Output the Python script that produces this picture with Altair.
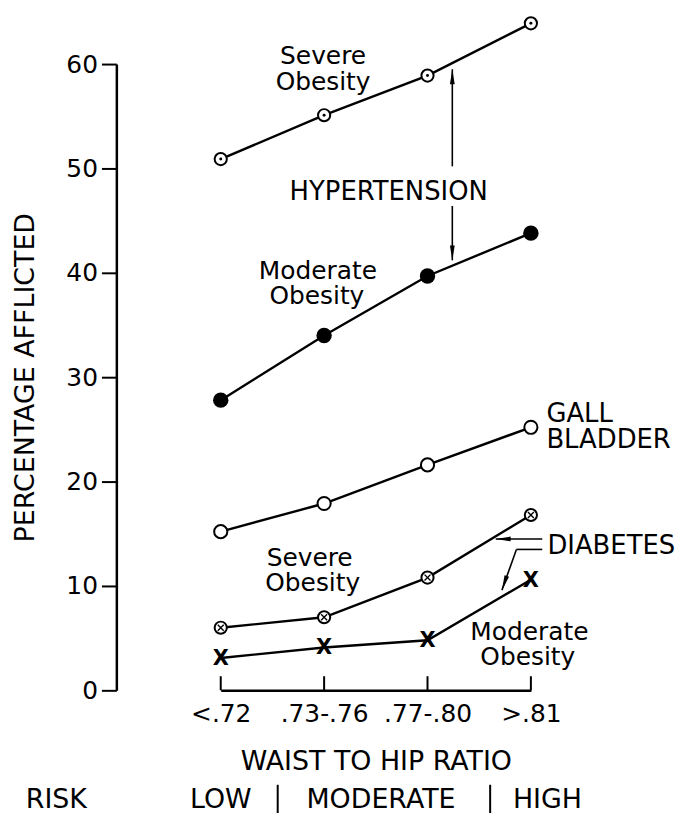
import altair as alt
import pandas as pd

# ---------------- data ----------------
categories = ["<.72", ".73-.76", ".77-.80", ">.81"]
ht_severe = [50.9, 55.1, 58.9, 63.9]
ht_moderate = [27.8, 34.0, 39.7, 43.8]
gall_bladder = [15.2, 17.9, 21.6, 25.2]
diab_severe = [6.0, 7.0, 10.8, 16.8]
diab_moderate = [3.1, 4.1, 4.8, 10.6]
y_ticks = [0, 10, 20, 30, 40, 50, 60]

# annotation labels (x in category-index units, y in percent)
center_text = ["Severe", "Obesity", "Moderate", "Obesity",
               "Severe", "Obesity", "Moderate", "Obesity"]
center_x = [0.99, 0.99, 0.94, 0.93, 0.86, 0.89, 2.985, 2.97]
center_y = [60.0, 57.5, 39.4, 37.0, 11.9, 9.55, 4.8, 2.4]

big_text = ["HYPERTENSION"]
big_x = [1.625]
big_y = [47.0]

left_text = ["GALL", "BLADDER", "DIABETES"]
left_x = [3.15, 3.15, 3.16]
left_y = [25.7, 23.2, 13.05]

risk_text = ["RISK", "LOW", "MODERATE", "HIGH"]
risk_x = [-1.59, 0.0, 1.55, 3.16]
risk_y = [-11.3, -11.3, -11.3, -11.3]
divider_x = [0.551, 2.606]
divider_y = [-9.05, -9.05]
divider_y2 = [-12.1, -12.1]

# arrow shafts
arrow_x = [2.24, 2.24, 3.11, 3.11, 2.86]
arrow_y = [50.2, 46.4, 14.5, 13.5, 13.5]
arrow_x2 = [2.24, 2.24, 2.66, 2.86, 2.72]
arrow_y2 = [59.5, 41.2, 14.5, 13.5, 9.6]
# arrow heads (tip position and direction in degrees)
head_x = [2.24, 2.24, 2.66, 2.72]
head_y = [59.5, 41.2, 14.5, 9.6]
head_angle = [0, 180, 270, 199]

tick_len = 1.35  # x-axis tick length in percent units

# ---------------- tables ----------------
idx = list(range(len(categories)))
series = {
    "ht_severe": ht_severe,
    "ht_moderate": ht_moderate,
    "gall": gall_bladder,
    "diab_severe": diab_severe,
    "diab_moderate": diab_moderate,
}
rows = []
for name, vals in series.items():
    for i, v in zip(idx, vals):
        rows.append({"series": name, "idx": i, "value": v, "cat": categories[i]})
df = pd.DataFrame(rows)

FONT = "DejaVu Sans"
label_expr = "[" + ",".join("'" + c + "'" for c in categories) + "][datum.value]"

xscale = alt.Scale(domain=[0, 3], nice=False, zero=False)
yscale = alt.Scale(domain=[0, 60], nice=False, zero=True)

xaxis = alt.Axis(values=idx, labelExpr=label_expr, ticks=False, tickSize=0,
                 domainColor="black", domainWidth=2.5, labelColor="black",
                 labelFont=FONT, labelFontSize=25, labelPadding=11,
                 labelFlush=False, labelOverlap=False, grid=False,
                 title="WAIST TO HIP RATIO", titleFont=FONT, titleFontSize=27,
                 titleFontWeight="normal", titleColor="black", titlePadding=23)
yaxis = alt.Axis(values=y_ticks, offset=105, tickSize=15, tickWidth=2,
                 tickColor="black", domainColor="black", domainWidth=2.5,
                 labelColor="black", labelFont=FONT, labelFontSize=25,
                 labelPadding=4, grid=False,
                 title="PERCENTAGE AFFLICTED", titleFont=FONT, titleFontSize=27,
                 titleFontWeight="normal", titleColor="black", titlePadding=27)


def X(f):
    return alt.X(f, type="quantitative", scale=xscale, axis=xaxis)


def Y(f):
    return alt.Y(f, type="quantitative", scale=yscale, axis=yaxis)


base = alt.Chart(df)

lines = base.mark_line(color="black", strokeWidth=2.4).encode(
    x=X("idx"), y=Y("value"), detail="series:N")

open_sev = base.transform_filter(alt.datum.series == "ht_severe").mark_point(
    shape="circle", filled=True, fill="white", stroke="black", strokeWidth=2,
    size=150, opacity=1).encode(x=X("idx"), y=Y("value"))
dot_sev = base.transform_filter(alt.datum.series == "ht_severe").mark_point(
    shape="circle", filled=True, color="black", size=9, opacity=1).encode(
    x=X("idx"), y=Y("value"))

filled_mod = base.transform_filter(alt.datum.series == "ht_moderate").mark_point(
    shape="circle", filled=True, color="black", size=240, opacity=1).encode(
    x=X("idx"), y=Y("value"))

open_gall = base.transform_filter(alt.datum.series == "gall").mark_point(
    shape="circle", filled=True, fill="white", stroke="black", strokeWidth=2,
    size=175, opacity=1).encode(x=X("idx"), y=Y("value"))

open_diab = base.transform_filter(alt.datum.series == "diab_severe").mark_point(
    shape="circle", filled=True, fill="white", stroke="black", strokeWidth=2,
    size=150, opacity=1).encode(x=X("idx"), y=Y("value"))
cross_diab = base.transform_filter(alt.datum.series == "diab_severe").mark_point(
    shape="M-0.75,-0.75L0.75,0.75M0.75,-0.75L-0.75,0.75", filled=False,
    stroke="black", strokeWidth=1.4, size=64, opacity=1).encode(
    x=X("idx"), y=Y("value"))

x_marks = base.transform_filter(alt.datum.series == "diab_moderate").mark_text(
    text="X", font=FONT, fontWeight="bold", fontSize=21, color="black",
    baseline="middle", align="center", dy=1).encode(x=X("idx"), y=Y("value"))

# x-axis ticks pointing upwards
tick_df = pd.DataFrame({"idx": idx, "y0": [0] * len(idx), "y1": [tick_len] * len(idx)})
xticks = alt.Chart(tick_df).mark_rule(color="black", strokeWidth=2).encode(
    x=X("idx"), y=Y("y0"), y2="y1")

center_df = pd.DataFrame({"idx": center_x, "value": center_y, "t": center_text})
center_lbl = alt.Chart(center_df).mark_text(
    font=FONT, fontSize=25, color="black", align="center",
    baseline="alphabetic").encode(x=X("idx"), y=Y("value"), text="t:N")

big_df = pd.DataFrame({"idx": big_x, "value": big_y, "t": big_text})
big_lbl = alt.Chart(big_df).mark_text(
    font=FONT, fontSize=26, color="black", align="center",
    baseline="alphabetic").encode(x=X("idx"), y=Y("value"), text="t:N")

left_df = pd.DataFrame({"idx": left_x, "value": left_y, "t": left_text})
left_lbl = alt.Chart(left_df).mark_text(
    font=FONT, fontSize=26, color="black", align="left",
    baseline="alphabetic").encode(x=X("idx"), y=Y("value"), text="t:N")

risk_df = pd.DataFrame({"idx": risk_x, "value": risk_y, "t": risk_text})
risk_lbl = alt.Chart(risk_df).mark_text(
    font=FONT, fontSize=27, color="black", align="center",
    baseline="alphabetic").encode(x=X("idx"), y=Y("value"), text="t:N")

div_df = pd.DataFrame({"idx": divider_x, "value": divider_y, "v2": divider_y2})
dividers = alt.Chart(div_df).mark_rule(color="black", strokeWidth=2).encode(
    x=X("idx"), y=Y("value"), y2="v2")

arrow_df = pd.DataFrame({"idx": arrow_x, "value": arrow_y,
                         "x2": arrow_x2, "v2": arrow_y2})
shafts = alt.Chart(arrow_df).mark_rule(color="black", strokeWidth=1.6).encode(
    x=X("idx"), y=Y("value"), x2="x2", y2="v2")

head_df = pd.DataFrame({"idx": head_x, "value": head_y, "ang": head_angle})
heads = alt.Chart(head_df).mark_point(
    shape="M0,0L-0.4,2.5L0.4,2.5Z", filled=True, color="black", size=144,
    opacity=1).encode(x=X("idx"), y=Y("value"),
                      angle=alt.Angle("ang:Q", scale=None))

chart = alt.layer(
    lines, xticks, shafts, heads, dividers,
    open_sev, dot_sev, filled_mod, open_gall, open_diab, cross_diab, x_marks,
    center_lbl, big_lbl, left_lbl, risk_lbl,
).properties(
    width=312, height=630,
    padding={"left": 214, "top": 54, "right": 150, "bottom": 121},
    autosize=alt.AutoSizeParams(type="none"),
    background="white",
).configure_view(stroke=None)

chart.save("out.html", embed_options={"renderer": "svg", "actions": False})
